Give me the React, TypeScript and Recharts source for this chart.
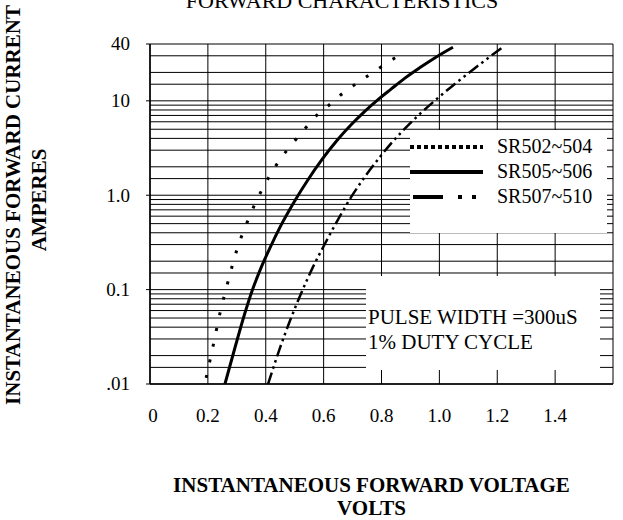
import React from 'react';
import { LineChart, Line, XAxis, YAxis, CartesianGrid, Legend, Label } from 'recharts';

const FONT = '"Liberation Serif", "Times New Roman", serif';

// forward voltage (V) / forward current (A)
const sr502Volts = [0.194, 0.218, 0.242, 0.27, 0.301, 0.342, 0.366, 0.39, 0.453, 0.491, 0.529, 0.57, 0.615, 0.663, 0.715, 0.767, 0.819, 0.874];
const sr502Amps = [0.0116, 0.0253, 0.0565, 0.123, 0.269, 0.574, 0.85, 1.19, 2.48, 3.49, 4.79, 6.74, 8.8, 11.8, 15.4, 19.7, 25.2, 32.1];

const sr505Volts = [0.259, 0.294, 0.328, 0.352, 0.38, 0.415, 0.449, 0.498, 0.546, 0.594, 0.646, 0.695, 0.743, 0.788, 0.833, 0.881, 0.933, 0.988, 1.047];
const sr505Amps = [0.01, 0.0245, 0.0565, 0.0957, 0.16, 0.279, 0.457, 0.848, 1.46, 2.38, 3.8, 5.57, 7.78, 10.3, 13.3, 17.4, 22.5, 29.0, 37.0];

const sr507Volts = [0.408, 0.446, 0.484, 0.522, 0.563, 0.605, 0.653, 0.701, 0.746, 0.795, 0.829, 0.878, 0.926, 0.985, 1.044, 1.13, 1.22];
const sr507Amps = [0.01, 0.0226, 0.047, 0.0908, 0.173, 0.308, 0.575, 1.02, 1.62, 2.55, 3.42, 4.97, 6.95, 10.1, 14.3, 23.1, 37.3];

const seriesNames = ['SR502~504', 'SR505~506', 'SR507~510'];

const xTicks = [0, 0.2, 0.4, 0.6, 0.8, 1.0, 1.2, 1.4, 1.6];
const xTickLabels = ['0', '0.2', '0.4', '0.6', '0.8', '1.0', '1.2', '1.4', ''];

const yGrid = [
  0.01, 0.015, 0.02, 0.03, 0.04, 0.05, 0.06, 0.07, 0.08, 0.09,
  0.1, 0.15, 0.2, 0.3, 0.4, 0.5, 0.6, 0.7, 0.8, 0.9,
  1, 1.5, 2, 3, 4, 5, 6, 7, 8, 9,
  10, 15, 20, 30, 40,
];
const yMajor = [0.01, 0.1, 1, 10, 40];
const yMajorLabels = ['.01', '0.1', '1.0', '10', '40'];

const zip = (volts: number[], amps: number[]) => volts.map((v, k) => ({ v, i: amps[k] }));
const sr502Data = zip(sr502Volts, sr502Amps);
const sr505Data = zip(sr505Volts, sr505Amps);
const sr507Data = zip(sr507Volts, sr507Amps);

const legendDash = ['4 3', undefined, '30 15 4 10 4 40'];

function YTick(props: any) {
  const { x, y, payload } = props;
  const k = yMajor.indexOf(payload.value);
  if (k < 0) return <g />;
  return (
    <g>
      <line x1={x + 4} x2={x + 8} y1={y} y2={y} stroke="#000" />
      <text x={x - 12} y={y} dy="0.34em" textAnchor="end" fontFamily={FONT} fontSize={19} fill="#000">
        {yMajorLabels[k]}
      </text>
    </g>
  );
}

function XTick(props: any) {
  const { x, y, payload } = props;
  const label = xTickLabels[xTicks.indexOf(payload.value)];
  if (!label) return <g />;
  return (
    <text x={payload.value === 0 ? x + 3 : x} y={y + 30} textAnchor="middle" fontFamily={FONT} fontSize={19} fill="#000">
      {label}
    </text>
  );
}

function XTitle(props: any) {
  const { viewBox } = props;
  const cx = viewBox.x + viewBox.width / 2 - 10;
  return (
    <g fontFamily={FONT} fontSize={21} fontWeight="bold" textAnchor="middle" fill="#000">
      <text x={cx} y={492}>INSTANTANEOUS FORWARD VOLTAGE</text>
      <text x={cx} y={515}>VOLTS</text>
    </g>
  );
}

function YTitle() {
  return (
    <g fontFamily={FONT} fontSize={21} fontWeight="bold" textAnchor="middle" fill="#000">
      <text x={20} y={205} transform="rotate(-90 20 205)">INSTANTANEOUS FORWARD CURRENT</text>
      <text x={46} y={200} transform="rotate(-90 46 200)">AMPERES</text>
    </g>
  );
}

function LegendBox() {
  return (
    <div style={{ width: 197, height: 103, background: '#fff', fontFamily: FONT, fontSize: 20, color: '#000', paddingTop: 4, boxSizing: 'border-box' }}>
      {seriesNames.map((name, k) => (
        <div key={name} style={{ display: 'flex', alignItems: 'center', height: 25 }}>
          <svg width={73} height={10} style={{ display: 'block' }}>
            <line x1={k === 2 ? 3 : 0} x2={73} y1={5} y2={5} stroke="#000" strokeWidth={4} strokeDasharray={legendDash[k]} />
          </svg>
          <span style={{ marginLeft: 14, lineHeight: '25px' }}>{name}</span>
        </div>
      ))}
    </div>
  );
}

export default function App() {
  return (
    <div style={{ position: 'absolute', left: 0, top: 0, width: 623, height: 520, background: '#fff' }}>
      <LineChart width={623} height={520} margin={{ top: 44, right: 10, bottom: 0, left: 0 }}>
        <CartesianGrid stroke="#000" strokeWidth={1} />
        <XAxis
          dataKey="v"
          type="number"
          domain={[0, 1.6]}
          ticks={xTicks}
          interval={0}
          height={136}
          tickLine={false}
          axisLine={{ stroke: '#000', strokeWidth: 1.5 }}
          tick={XTick}
          allowDataOverflow
        >
          <Label content={XTitle} />
        </XAxis>
        <YAxis
          scale="log"
          domain={[0.01, 40]}
          ticks={yGrid}
          interval={0}
          width={150}
          tickLine={false}
          axisLine={{ stroke: '#000', strokeWidth: 1.5 }}
          tick={YTick}
          allowDataOverflow
        >
          <Label content={YTitle} />
        </YAxis>
        <Legend
          layout="vertical"
          align="center"
          verticalAlign="middle"
          content={LegendBox}
          wrapperStyle={{ position: 'absolute', left: 410, top: 130, width: 197, height: 103 }}
        />
        <Line data={sr502Data} dataKey="i" name={seriesNames[0]} type="monotone" stroke="#000" strokeWidth={3} strokeDasharray="3 13" dot={false} isAnimationActive={false} />
        <Line data={sr505Data} dataKey="i" name={seriesNames[1]} type="monotone" stroke="#000" strokeWidth={3} dot={false} isAnimationActive={false} />
        <Line data={sr507Data} dataKey="i" name={seriesNames[2]} type="monotone" stroke="#000" strokeWidth={2.5} strokeDasharray="12 4 2.5 4 2.5 4" dot={false} isAnimationActive={false} />
      </LineChart>
      <svg width={623} height={20} style={{ position: 'absolute', left: 0, top: 0, pointerEvents: 'none' }}>
        <text x={342} y={8} textAnchor="middle" fontFamily={FONT} fontSize={22} fill="#000">FORWARD CHARACTERISTICS</text>
      </svg>
      <div style={{ position: 'absolute', left: 366, top: 276, width: 234, height: 94, background: '#fff', fontFamily: FONT, fontSize: 21, color: '#000', paddingTop: 29, paddingLeft: 2, boxSizing: 'border-box', lineHeight: '25px' }}>
        <div>PULSE WIDTH =300uS</div>
        <div>1% DUTY CYCLE</div>
      </div>
    </div>
  );
}
